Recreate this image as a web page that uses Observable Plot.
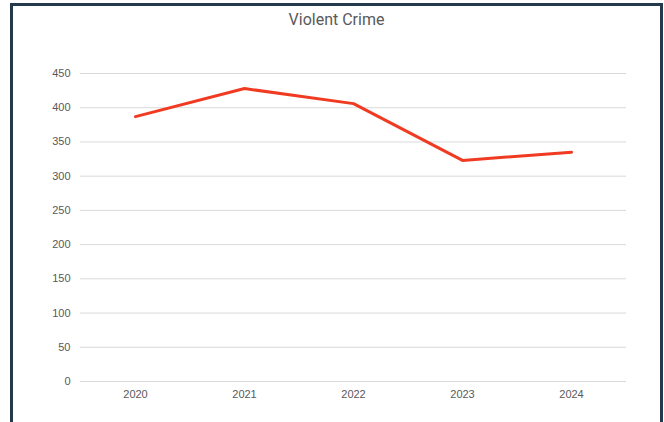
<!DOCTYPE html>
<html>
<head>
<meta charset="utf-8">
<script src="https://cdn.jsdelivr.net/npm/d3@7"></script>
<script src="https://cdn.jsdelivr.net/npm/@observablehq/plot@0.6"></script>
<style>
  html, body { margin: 0; padding: 0; background: #fff; overflow: hidden; }
  #wrap { position: relative; width: 664px; height: 422px; }
  #frame { position: absolute; left: 10px; top: 3px; width: 653px; height: 440px; box-sizing: border-box; border: 3px solid #243a4c; pointer-events: none; }
  #chart { position: absolute; left: 0; top: 0; }
</style>
</head>
<body>
<div id="wrap">
  <div id="chart"></div>
  <div id="frame"></div>
</div>
<script>
const title = "Violent Crime";
const years = ["2020", "2021", "2022", "2023", "2024"];
const violentCrime = [387, 428, 406, 323, 335];
const yTicks = [0, 50, 100, 150, 200, 250, 300, 350, 400, 450];

const data = years.map((y, i) => ({year: y, value: violentCrime[i]}));

const plot = Plot.plot({
  width: 664,
  height: 422,
  marginLeft: 80,
  marginRight: 38,
  marginTop: 73,
  marginBottom: 41,
  style: {fontFamily: "Liberation Sans, Arial, sans-serif", fontSize: "11px", color: "#595959", background: "transparent"},
  x: {type: "point", domain: years, padding: 0.5, label: null},
  y: {domain: [0, 450], ticks: yTicks, label: null},
  marks: [
    Plot.gridY(yTicks, {stroke: "#d9d9d9", strokeOpacity: 1, strokeWidth: 1}),
    Plot.axisY(yTicks, {tickSize: 0, tickPadding: 10, label: null, fill: "#595959"}),
    Plot.axisX({tickSize: 0, tickPadding: 9, label: null, fill: "#595959"}),
    Plot.line(data, {x: "year", y: "value", stroke: "#f03b22", strokeWidth: 3, strokeLinejoin: "miter"}),
    Plot.text([title], {frameAnchor: "top", dy: -54, lineAnchor: "middle", text: d => d, fontSize: 16, fill: "#595959", fontFamily: "Roboto, sans-serif", dx: -17})
  ]
});
document.getElementById("chart").appendChild(plot);
</script>
</body>
</html>
